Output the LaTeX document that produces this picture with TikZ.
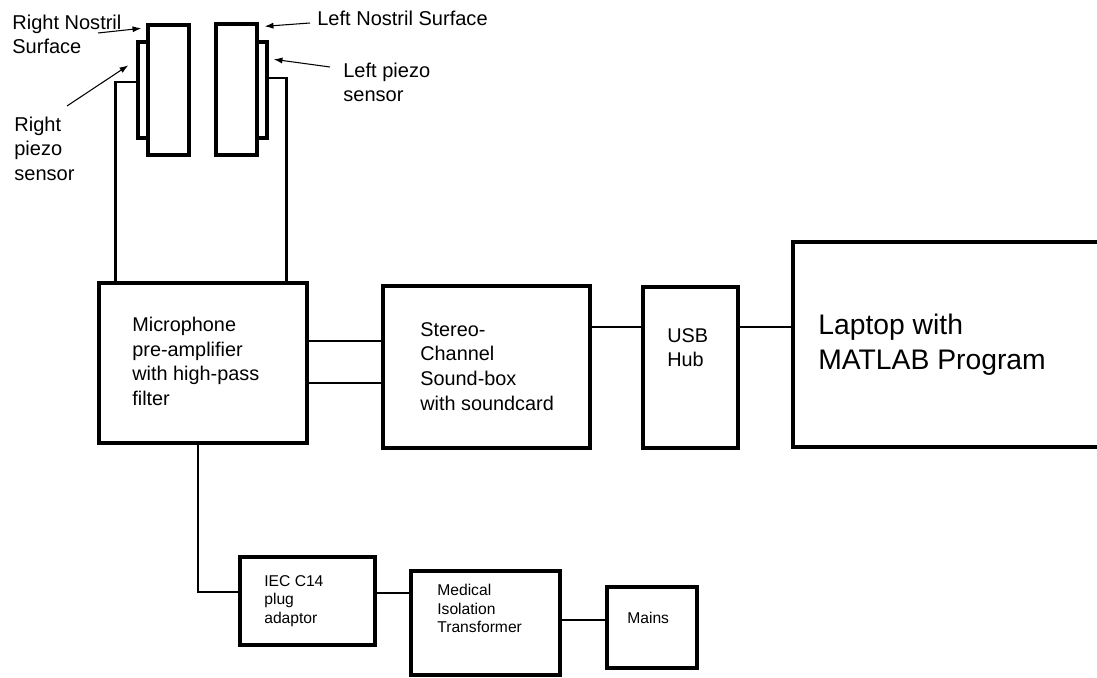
\documentclass[tikz,border=0pt]{standalone}
\usepackage{fontspec}
\setmainfont{Liberation Sans}
\usetikzlibrary{calc,fit,arrows.meta}
\newcommand{\lblfont}{\fontsize{11.4}{13.7}\selectfont}
\newcommand{\midfont}{\fontsize{11.3}{14}\selectfont}
\newcommand{\smlfont}{\fontsize{8.9}{10.6}\selectfont}
\newcommand{\bigfont}{\fontsize{16.1}{20}\selectfont}
\tikzset{
  box/.style={draw, line width=2.5pt, inner sep=0pt},
  thinbox/.style={draw, line width=1.9pt, inner sep=0pt},
  wire/.style={line width=1.7pt},
  pointer/.style={line width=0.6pt, -{Latex[length=5pt,width=3.5pt]}},
  txt/.style={anchor=north west, inner sep=0pt, align=left},
}

\begin{document}
\begin{tikzpicture}[x=0.02cm,y=-0.02cm]
			\useasboundingbox (0,0) rectangle (1097,678);
			% nostril surfaces and piezo sensors
			\node[thinbox, fit={(148,25) (189,155)}] (rsurf) {};
			\node[thinbox, fit={(138,42) (148,138)}] (rpiezo) {};
			\node[thinbox, fit={(216,24) (257,155)}] (lsurf) {};
			\node[thinbox, fit={(257,42) (267,138)}] (lpiezo) {};
			% blocks
			\node[thinbox, line width=2.2pt, fit={(99,283) (307,443)}] (mic) {};
			\node[box, fit={(383,286) (590,448)}] (stereo) {};
			\node[box, fit={(643,287) (738,448)}] (usb) {};
			\node[box, fit={(793,242) (1130,447)}] (laptop) {};
			\node[box, fit={(240,557) (375,645)}] (iec) {};
			\node[box, fit={(411,571) (560,675)}] (medical) {};
			\node[box, fit={(607,587) (697,668)}] (mains) {};
			% block texts
			\node[txt, font=\midfont] (mictext) at (132,317) {Microphone\\pre-amplifier\\with high-pass\\filter};
			\node[txt, font=\midfont] (stereotext) at (420,322) {Stereo-\\Channel\\Sound-box\\with soundcard};
			\node[txt, font=\midfont] (usbtext) at (667,328) {USB\\Hub};
			\node[txt, font=\bigfont] (laptoptext) at (818,314) {Laptop with\\MATLAB Program};
			\node[txt, font=\smlfont] (iectext) at (264,575) {IEC C14\\plug\\adaptor};
			\node[txt, font=\smlfont] (medicaltext) at (437,584) {Medical\\Isolation\\Transformer};
			\node[txt, font=\smlfont] (mainstext) at (627,612) {Mains};
			% labels
			\node[txt, font=\lblfont] (rsurflbl) at (12,15) {Right Nostril\\Surface};
			\node[txt, font=\lblfont] (lsurflbl) at (317,11) {Left Nostril Surface};
			\node[txt, font=\lblfont] (lpiezolbl) at (343,63) {Left piezo\\sensor};
			\node[txt, font=\lblfont] (rpiezolbl) at (14,117) {Right\\piezo\\sensor};
			% arrows to the parts
			\coordinate (rsurfa) at (98,33);
			\coordinate (lsurfa) at (310,23);
			\coordinate (lpiezoa) at (330,67);
			\coordinate (rpiezoa) at (67,106);
			\draw[pointer] (rsurfa) -- ($(rsurf.north west)+(-5,5)$);
			\draw[pointer] (lsurfa) -- ($(lsurf.north east)+(6,4)$);
			\draw[pointer] (lpiezoa) -- ($(lpiezo.north east)+(5,19)$);
			\draw[pointer] (rpiezoa) -- ($(rpiezo.north west)+(-8,25)$);
			% wires
			\draw[wire] ($(rpiezo.west)+(0,-8)$) -| ($(mic.north west)+(18,0)$);
			\draw[wire] ($(lpiezo.east)+(0,-12)$) -| ($(mic.north east)+(-22,0)$);
			\draw[wire] (mic.east |- 0,341) -- (stereo.west |- 0,341);
			\draw[wire] (mic.east |- 0,383) -- (stereo.west |- 0,383);
			\draw[wire] (stereo.east |- 0,327) -- (usb.west |- 0,327);
			\draw[wire] (usb.east |- 0,327) -- (laptop.west |- 0,327);
			\draw[wire] ($(mic.south)+(-5,0)$) |- (iec.west |- 0,592);
			\draw[wire] (iec.east |- 0,593) -- (medical.west |- 0,593);
			\draw[wire] (medical.east |- 0,620) -- (mains.west |- 0,620);
		\end{tikzpicture}
\end{document}
